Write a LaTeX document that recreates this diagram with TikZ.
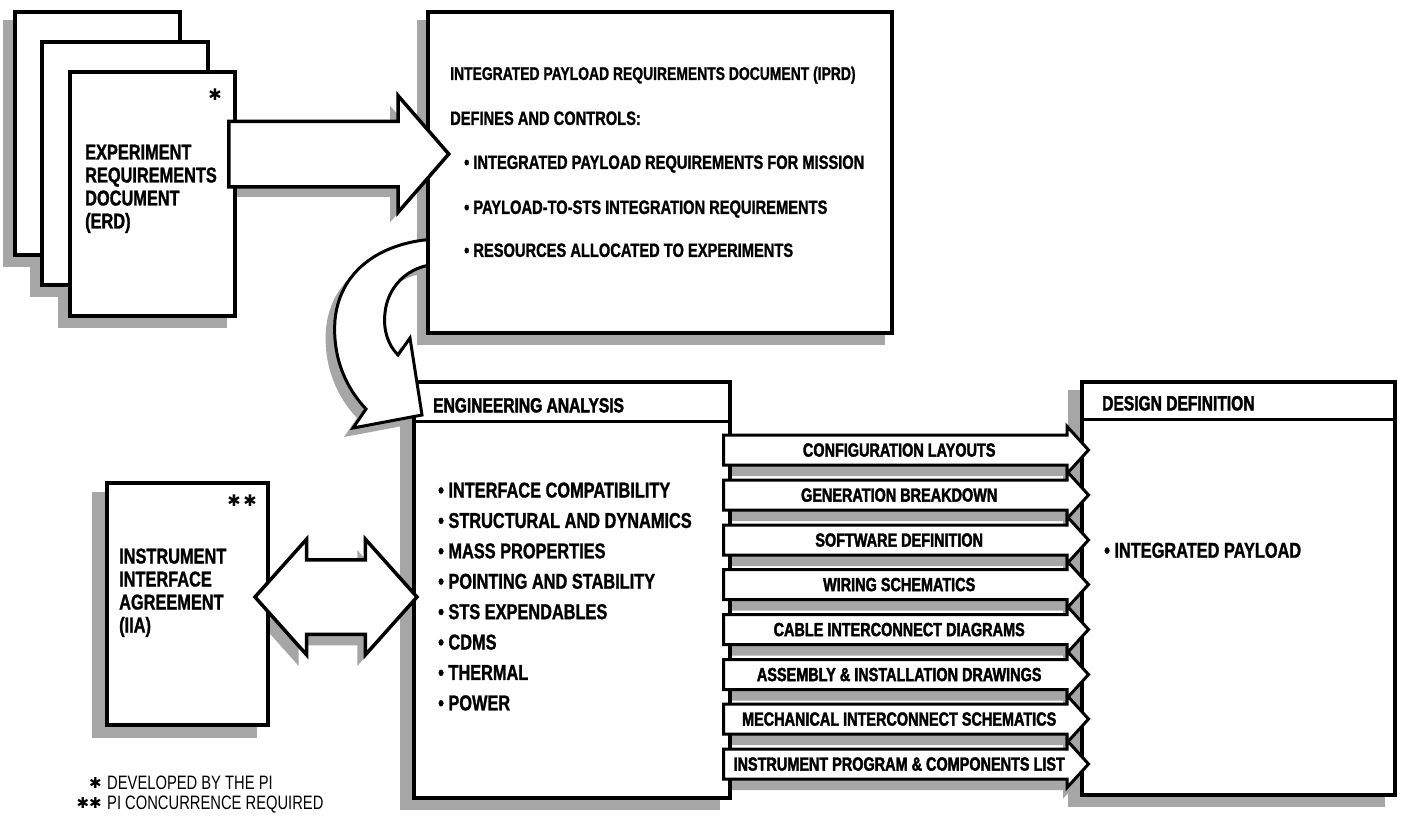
\documentclass[tikz,border=0pt]{standalone}
\usepackage{fontspec}
\setmainfont{Liberation Sans}[FakeStretch=0.76,BoldFeatures={FakeBold=1.2}]
\newfontfamily\heavyfont{Liberation Sans Bold}[FakeStretch=0.76,FakeBold=2]
\newfontfamily\starfont{DejaVu Sans}
\usetikzlibrary{shapes.arrows,backgrounds,positioning}

% curved arrow from the IPRD down to the engineering analysis
\newcommand\turnpath{(442,239) .. controls (390,239) and (340,265) .. (335,320)
  .. controls (332,360) and (348,390) .. (366,409) -- (353,428) -- (422,415)
  -- (410,338) -- (398,355) .. controls (388,345) and (383,330) .. (385,313)
  .. controls (387,290) and (405,264) .. (442,264) -- cycle}

\begin{document}
\begin{tikzpicture}[
    x=1pt, y=-1pt,
    sheet/.style={
        rectangle,
        draw=black,
        line width=4pt,
        fill=white,
        inner sep=0pt
    },
    shadowfill/.style={
        fill=black!35,
        draw=none
    },
    doctext/.style={
        font=\bfseries\fontsize{21.5}{23}\selectfont,
        align=left,
        inner sep=0pt
    },
    iprdtext/.style={
        font=\bfseries\fontsize{19.3}{22}\selectfont,
        inner sep=0pt,
        text height=13.8pt,
        text depth=0pt
    },
    headtext/.style={
        font=\heavyfont\fontsize{20.5}{22}\selectfont,
        inner sep=0pt,
        text height=14.7pt,
        text depth=0pt
    },
    listtext/.style={
        font=\bfseries\fontsize{21.5}{30.4}\selectfont,
        align=left,
        inner sep=0pt
    },
    note/.style={
        font=\fontsize{19.4}{20}\selectfont,
        inner sep=0pt,
        text height=13.9pt,
        text depth=0pt
    },
    star/.style={
        font=\starfont\fontsize{15}{15}\selectfont,
        inner sep=0pt
    },
    bigarrow/.style={
        single arrow,
        draw=black,
        line width=3.5pt,
        fill=white,
        single arrow head extend=25.5pt,
        single arrow tip angle=98,
        single arrow head indent=0pt,
        minimum height=220pt,
        inner xsep=0pt,
        inner ysep=31pt,
        text height=0pt,
        text depth=0pt,
        anchor=tail
    },
    twoway/.style={
        double arrow,
        draw=black,
        line width=3.5pt,
        fill=white,
        double arrow head extend=20.5pt,
        double arrow tip angle=96.5,
        double arrow head indent=0pt,
        minimum height=162pt,
        inner xsep=0pt,
        inner ysep=35.5pt,
        text height=0pt,
        text depth=0pt
    },
    flow/.style={
        single arrow,
        draw=black,
        line width=3pt,
        fill=white,
        single arrow head extend=8.5pt,
        single arrow tip angle=95.5,
        single arrow head indent=0pt,
        minimum height=365pt,
        inner xsep=0pt,
        inner ysep=6.9pt,
        text height=13.2pt,
        text depth=0pt,
        font=\heavyfont\fontsize{19}{20}\selectfont,
        anchor=tail
    }
]

\useasboundingbox (0,0) rectangle (1403,815);

% Experiment requirements documents (stack)
\node[sheet, minimum width=165pt, minimum height=243pt] (erdback) at (97.5,133.5) {};
\node[sheet, minimum width=166pt, minimum height=243pt] (erdmid) at (125,163.5) {};
\node[sheet, minimum width=165pt, minimum height=244pt] (erdfront) at (152.5,194) {};
\node[doctext, anchor=north west] (erdlabel) at (85,144.5) {EXPERIMENT\\REQUIREMENTS\\DOCUMENT\\(ERD)};
\node[star, font=\starfont\fontsize{16}{16}\selectfont] (erdstar) at (215,95) {✱};

% Engineering analysis
\node[sheet, minimum width=316pt, minimum height=416pt] (ea) at (572,590) {};
\draw[line width=3pt] ([yshift=-41pt]ea.north west) -- ([yshift=-41pt]ea.north east);
\node[headtext, anchor=west] (eahead) at (433,405) {ENGINEERING ANALYSIS};
\node[listtext, anchor=north west] (ealist) at (438,482.3) {• INTERFACE COMPATIBILITY\\• STRUCTURAL AND DYNAMICS\\• MASS PROPERTIES\\• POINTING AND STABILITY\\• STS EXPENDABLES\\• CDMS\\• THERMAL\\• POWER};

% Curved arrow IPRD -> engineering analysis
\draw[line width=3pt, fill=white] \turnpath;

% Integrated payload requirements document
\node[sheet, minimum width=464pt, minimum height=321pt] (iprd) at (660,172.5) {};
\node[iprdtext, font=\bfseries\fontsize{18.3}{22}\selectfont, anchor=west] (iprdtitle) at (450,73) {INTEGRATED PAYLOAD REQUIREMENTS DOCUMENT (IPRD)};
\node[iprdtext, anchor=west] (iprddef) at (450,118) {DEFINES AND CONTROLS:};
\node[iprdtext, anchor=west] (iprd1) at (464,162) {• INTEGRATED PAYLOAD REQUIREMENTS FOR MISSION};
\node[iprdtext, anchor=west] (iprd2) at (464,207) {• PAYLOAD-TO-STS INTEGRATION REQUIREMENTS};
\node[iprdtext, anchor=west] (iprd3) at (464,250) {• RESOURCES ALLOCATED TO EXPERIMENTS};

% ERD -> IPRD
\node[bigarrow] (erdarrow) at (227,154) {};

% Instrument interface agreement
\node[sheet, minimum width=161pt, minimum height=242pt] (iia) at (187.5,604) {};
\node[doctext, anchor=north west] (iialabel) at (119,548.3) {INSTRUMENT\\INTERFACE\\AGREEMENT\\(IIA)};
\node[star, font=\starfont\fontsize{16}{16}\selectfont] (iiastar) at (242,501) {✱\,✱};
\node[twoway] (iiaarrow) at (336,597) {};

% Design definition
\node[sheet, minimum width=313pt, minimum height=413pt] (dd) at (1238.5,588.5) {};
\draw[line width=3pt] ([yshift=-39pt]dd.north west) -- ([yshift=-39pt]dd.north east);
\node[headtext, anchor=west] (ddhead) at (1102,403) {DESIGN DEFINITION};
\node[listtext, anchor=west, text height=15.4pt, text depth=0pt] (ddlist) at (1104,550) {• INTEGRATED PAYLOAD};

% Outputs of the analysis
\node[flow] (f1) at (722,450) {CONFIGURATION LAYOUTS};
\node[flow] (f2) at (722,495) {GENERATION BREAKDOWN};
\node[flow] (f3) at (722,540) {SOFTWARE DEFINITION};
\node[flow] (f4) at (722,584.5) {WIRING SCHEMATICS};
\node[flow] (f5) at (722,629.5) {CABLE INTERCONNECT DIAGRAMS};
\node[flow] (f6) at (722,674.5) {ASSEMBLY \& INSTALLATION DRAWINGS};
\node[flow] (f7) at (722,719) {MECHANICAL INTERCONNECT SCHEMATICS};
\node[flow] (f8) at (722,764) {INSTRUMENT PROGRAM \& COMPONENTS LIST};

% Footnotes
\node[star, anchor=east] (n1star) at (102,783) {✱};
\node[note, anchor=west] (n1) at (107,783) {DEVELOPED BY THE PI};
\node[star, anchor=east] (n2star) at (102,803) {✱✱};
\node[note, anchor=west] (n2) at (107,803) {PI CONCURRENCE REQUIRED};

% Shadows
\begin{scope}[on background layer]
\fill[white] (0,0) rectangle (1403,815);
\fill[shadowfill] ([shift={(-10pt,-10pt)}]erdback.north west) rectangle ([shift={(-10pt,-10pt)}]erdback.south east);
\fill[shadowfill] ([shift={(-10pt,-10pt)}]erdmid.north west) rectangle ([shift={(-10pt,-10pt)}]erdmid.south east);
\fill[shadowfill] ([shift={(-10pt,-10pt)}]erdfront.north west) rectangle ([shift={(-10pt,-10pt)}]erdfront.south east);
\fill[shadowfill] ([shift={(-9pt,-10pt)}]iprd.north west) rectangle ([shift={(-9pt,-10pt)}]iprd.south east);
\fill[shadowfill] ([shift={(-13pt,-11pt)}]iia.north west) rectangle ([shift={(-13pt,-11pt)}]iia.south east);
\fill[shadowfill] ([shift={(-12pt,-10pt)}]ea.north west) rectangle ([shift={(-12pt,-10pt)}]ea.south east);
\fill[shadowfill] ([shift={(-12pt,-10pt)}]dd.north west) rectangle ([shift={(-12pt,-10pt)}]dd.south east);
\fill[shadowfill, xshift=-9pt, yshift=-9pt] \turnpath;
\node[bigarrow, shadowfill] at ([shift={(-8pt,-10pt)}]erdarrow.tail) {};
\node[twoway, shadowfill] at ([shift={(-8pt,-11pt)}]iiaarrow.center) {};
\node[flow, shadowfill] at ([shift={(-4pt,-11pt)}]f1.tail) {};
\node[flow, shadowfill] at ([shift={(-4pt,-11pt)}]f2.tail) {};
\node[flow, shadowfill] at ([shift={(-4pt,-11pt)}]f3.tail) {};
\node[flow, shadowfill] at ([shift={(-4pt,-11pt)}]f4.tail) {};
\node[flow, shadowfill] at ([shift={(-4pt,-11pt)}]f5.tail) {};
\node[flow, shadowfill] at ([shift={(-4pt,-11pt)}]f6.tail) {};
\node[flow, shadowfill] at ([shift={(-4pt,-11pt)}]f7.tail) {};
\node[flow, shadowfill] at ([shift={(-4pt,-11pt)}]f8.tail) {};
\end{scope}

\end{tikzpicture}
\end{document}
